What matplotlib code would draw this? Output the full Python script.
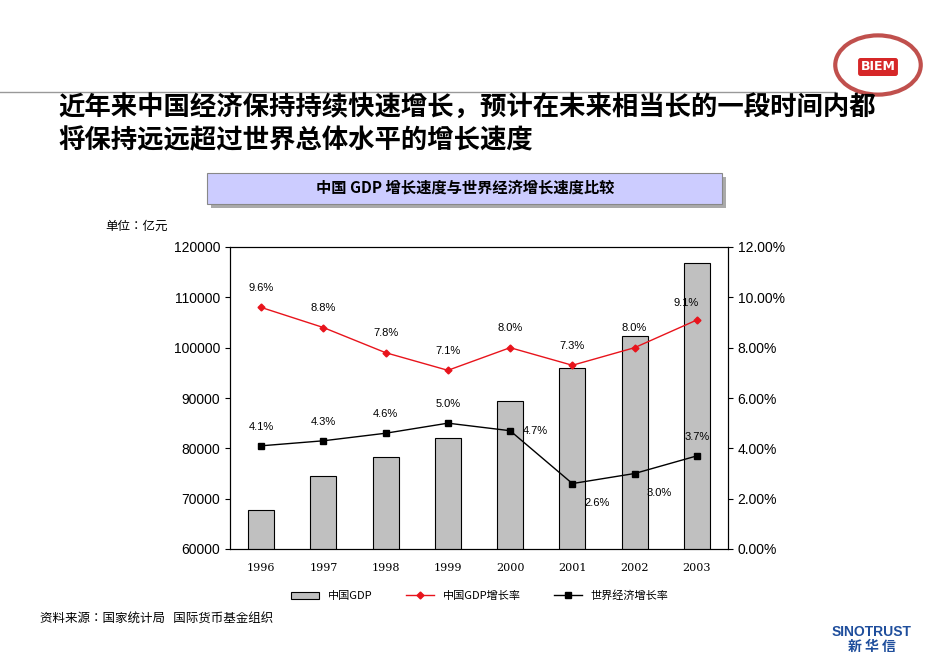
import matplotlib.pyplot as plt
from matplotlib import font_manager
from matplotlib.patches import Rectangle, Circle
import matplotlib.lines as mlines

cjk = [f.name for f in font_manager.fontManager.ttflist if 'CJK' in f.name]
cjk_name = 'Noto Sans CJK SC' if 'Noto Sans CJK SC' in cjk else (cjk[0] if cjk else 'DejaVu Sans')
plt.rcParams['font.family'] = [cjk_name, 'DejaVu Sans']

YEARS = ['1996', '1997', '1998', '1999', '2000', '2001', '2002', '2003']
GDP = [67800, 74500, 78300, 82100, 89400, 96000, 102300, 116800]
CN_RATE = [9.6, 8.8, 7.8, 7.1, 8.0, 7.3, 8.0, 9.1]
WORLD_RATE = [4.1, 4.3, 4.6, 5.0, 4.7, 2.6, 3.0, 3.7]

fig = plt.figure(figsize=(9.5, 6.58), dpi=100)
W, H = 950, 658

def fx(x): return x / W
def fy(y): return 1 - y / H

# header line and title
fig.add_artist(mlines.Line2D([0, fx(835)], [fy(92), fy(92)], color='#999999', lw=1))
fig.text(fx(58), fy(108), '近年来中国经济保持持续快速增长，预计在未来相当长的一段时间内都',
         fontsize=19, fontweight='bold', va='center')
fig.text(fx(58), fy(141), '将保持远远超过世界总体水平的增长速度',
         fontsize=19, fontweight='bold', va='center')

# logo
fig.add_artist(Circle((fx(878), fy(65)), 0.045, transform=fig.transFigure,
                      facecolor='white', edgecolor='#c0504d', lw=3))
fig.text(fx(878), fy(67), 'BIEM', color='white', fontsize=9, fontweight='bold',
         ha='center', va='center', family='DejaVu Sans',
         bbox=dict(boxstyle='round,pad=0.2', fc='#d62728', ec='none'))

# chart title box
fig.add_artist(Rectangle((fx(211), fy(208)), fx(515), 31 / H, transform=fig.transFigure,
                         facecolor='#aaaaaa', edgecolor='none'))
fig.add_artist(Rectangle((fx(207), fy(204)), fx(515), 31 / H, transform=fig.transFigure,
                         facecolor='#ccccff', edgecolor='#888888', lw=0.8))
fig.text(fx(465), fy(188), '中国 GDP 增长速度与世界经济增长速度比较', fontsize=11,
         fontweight='bold', ha='center', va='center')
fig.text(fx(105), fy(226), '单位：亿元', fontsize=9, va='center')

ax = fig.add_axes([fx(230), fy(549), fx(498), (549 - 247) / H])
x = range(len(YEARS))
ax.bar(x, GDP, width=0.42, color='#c0c0c0', edgecolor='black', lw=0.8, label='中国GDP')
ax.set_ylim(60000, 120000)
ax.set_xlim(-0.5, len(YEARS) - 0.5)
ax.set_xticks(list(x))
ax.set_xticklabels(YEARS, family='DejaVu Serif', fontsize=8)
ax.tick_params(axis='x', pad=10, length=0)
ax.tick_params(axis='y', labelsize=10)
for lab in ax.get_yticklabels():
    lab.set_family('Liberation Sans')

ax2 = ax.twinx()
ax2.plot(x, CN_RATE, color='#e8141c', marker='D', ms=3.5, lw=1, label='中国GDP增长率')
ax2.plot(x, WORLD_RATE, color='black', marker='s', ms=4, lw=1, label='世界经济增长率')
ax2.set_ylim(0, 12)
ax2.set_yticks(range(0, 13, 2))
ax2.set_yticklabels(['%.2f%%' % v for v in range(0, 13, 2)], family='Liberation Sans', fontsize=10)

for i, v in enumerate(CN_RATE):
    dx, dy = (-8, 10) if i == 7 else (0, 12)
    ax2.annotate('%.1f%%' % v, (i, v), xytext=(dx, dy), textcoords='offset points',
                 ha='center', fontsize=8, family='Liberation Sans')
offs = [(0, 10), (0, 10), (0, 10), (0, 10), (18, 0), (18, -14), (18, -14), (0, 10)]
for i, v in enumerate(WORLD_RATE):
    ax2.annotate('%.1f%%' % v, (i, v), xytext=offs[i], textcoords='offset points',
                 ha='center', va='center' if offs[i][0] else 'bottom', fontsize=8,
                 family='Liberation Sans')

h1, l1 = ax.get_legend_handles_labels()
h2, l2 = ax2.get_legend_handles_labels()
fig.legend(h1 + h2, l1 + l2, loc='center', bbox_to_anchor=(fx(480), fy(596)), ncol=3,
           frameon=False, fontsize=8, handlelength=2.5, columnspacing=3)

fig.text(fx(40), fy(618), '资料来源：国家统计局   国际货币基金组织', fontsize=9, va='center')
fig.text(fx(872), fy(632), 'SINOTRUST', color='#1f4e9c', fontsize=10, fontweight='bold',
         ha='center', va='center', family='Liberation Sans')
fig.text(fx(872), fy(647), '新 华 信', color='#1f4e9c', fontsize=10, fontweight='bold',
         ha='center', va='center')

fig.savefig('out.png', dpi=100)
